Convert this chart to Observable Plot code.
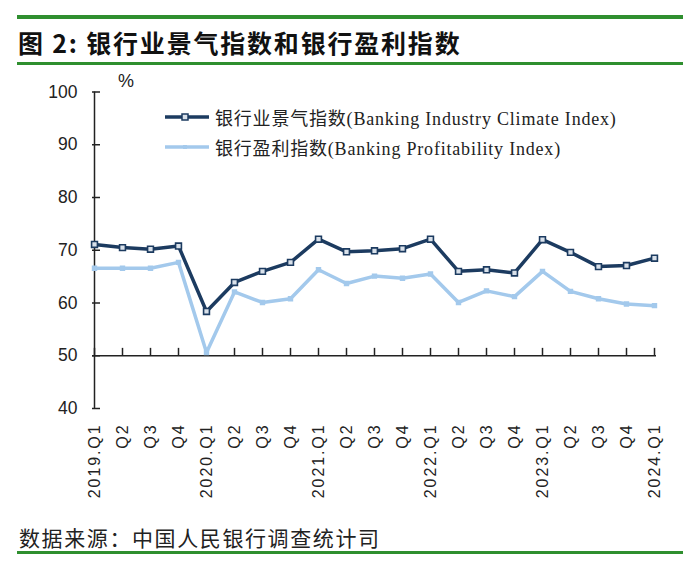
<!DOCTYPE html>
<html>
<head>
<meta charset="utf-8">
<script src="https://cdn.jsdelivr.net/npm/d3@7"></script>
<script src="https://cdn.jsdelivr.net/npm/@observablehq/plot@0.6"></script>
<style>
  html, body { margin: 0; padding: 0; background: #fff; }
  #wrap { position: relative; width: 700px; height: 568px; overflow: hidden; }
  #wrap svg.plot { position: absolute; left: 0; top: 0; }
  .rule { position: absolute; background: #2f8f2f; }
  #title { position: absolute; left: 18px; top: 26px; font-family: "Noto Sans CJK SC", sans-serif; font-weight: 700; font-size: 25px; line-height: 32px; color: #111; letter-spacing: 1.8px; white-space: nowrap; }
  #caption { position: absolute; left: 19px; top: 523px; font-family: "Noto Sans CJK SC", sans-serif; font-weight: 400; font-size: 21px; line-height: 28px; color: #222; letter-spacing: 1.6px; white-space: nowrap; }
  #pct { position: absolute; left: 118px; top: 71px; font-family: "Liberation Sans", sans-serif; font-size: 18px; color: #222; }
  .leg { position: absolute; left: 163px; height: 24px; display: flex; align-items: center; font-family: "Liberation Serif", "Noto Sans CJK SC", serif; font-size: 18px; color: #222; white-space: nowrap; letter-spacing: 0.8px; }
  .leg svg { margin-right: 4px; }
  svg [aria-label="x-axis tick label"] text { letter-spacing: 1.9px; }
</style>
</head>
<body>
<div id="wrap"></div>
<script>
// ---- data ----
const quarters = ["2019Q1","2019Q2","2019Q3","2019Q4","2020Q1","2020Q2","2020Q3","2020Q4",
  "2021Q1","2021Q2","2021Q3","2021Q4","2022Q1","2022Q2","2022Q3","2022Q4",
  "2023Q1","2023Q2","2023Q3","2023Q4","2024Q1"];
const xTickLabels = ["2019.Q1","Q2","Q3","Q4","2020.Q1","Q2","Q3","Q4",
  "2021.Q1","Q2","Q3","Q4","2022.Q1","Q2","Q3","Q4",
  "2023.Q1","Q2","Q3","Q4","2024.Q1"];
const climateIndex = [71.1,70.5,70.2,70.8,58.4,63.9,66.0,67.7,72.1,69.7,69.9,70.3,72.1,66.0,66.3,65.7,72.0,69.6,66.9,67.1,68.5];
const profitIndex  = [66.6,66.6,66.6,67.7,50.6,62.1,60.1,60.8,66.3,63.7,65.1,64.7,65.5,60.1,62.3,61.2,66.0,62.2,60.8,59.8,59.5];
const yTicks = [40,50,60,70,80,90,100];
const seriesNames = ["银行业景气指数(Banking Industry Climate Index)", "银行盈利指数(Banking Profitability Index)"];
const colors = ["#1c3b60", "#a3c9ec"];

const climateData = quarters.map((q, i) => ({q, v: climateIndex[i]}));
const profitData = quarters.map((q, i) => ({q, v: profitIndex[i]}));
const labelOf = new Map(quarters.map((q, i) => [q, xTickLabels[i]]));

const W = 700, H = 568;
const mL = 92, mR = 44, mT = 91.5, mB = H - 408;
const plotW = W - mL - mR;

const chart = Plot.plot({
  width: W, height: H,
  marginLeft: mL, marginRight: mR, marginTop: mT, marginBottom: mB,
  style: {background: "transparent", overflow: "visible"},
  x: {type: "point", domain: quarters, padding: 0},
  y: {domain: [40, 100]},
  marks: [
    Plot.axisY({ticks: yTicks, tickSize: 0, tickPadding: 15, fontSize: 17.5, fontFamily: "Liberation Sans, sans-serif", fill: "#222", label: null}),
    Plot.axisX({tickSize: 0, tickRotate: -90, tickPadding: 15, fontSize: 16, fontFamily: "Liberation Sans, sans-serif", fill: "#222", label: null, tickFormat: d => labelOf.get(d)}),
    Plot.tickY(yTicks, {y: d => d, stroke: "#222", strokeWidth: 1.5, insetRight: plotW - 8}),
    Plot.ruleX([quarters[0]], {y1: 40, y2: 100, stroke: "#222", strokeWidth: 1.5}),
    Plot.ruleY([50], {stroke: "#222", strokeWidth: 1.5}),
    Plot.ruleX(quarters, {y1: 50, y2: 51.4, stroke: "#222", strokeWidth: 1.5}),
    Plot.line(profitData, {x: "q", y: "v", stroke: colors[1], strokeWidth: 3.5}),
    Plot.dot(profitData, {x: "q", y: "v", symbol: "square", r: 2.2, fill: colors[1], stroke: colors[1]}),
    Plot.line(climateData, {x: "q", y: "v", stroke: colors[0], strokeWidth: 3.5}),
    Plot.dot(climateData, {x: "q", y: "v", symbol: "square", r: 3.3, fill: "#d9e1ea", stroke: colors[0], strokeWidth: 1.6})
  ]
});
chart.classList.add("plot");

const wrap = document.getElementById("wrap");
wrap.appendChild(chart);

function addRule(top, left, width, h) {
  const d = document.createElement("div");
  d.className = "rule";
  d.style.top = top + "px"; d.style.left = left + "px";
  d.style.width = width + "px"; d.style.height = h + "px";
  wrap.appendChild(d);
}
addRule(15, 17, 666, 3.5);
addRule(62, 17, 666, 2.5);
addRule(551, 17, 666, 2.5);

const title = document.createElement("div");
title.id = "title";
title.textContent = "图 2:  银行业景气指数和银行盈利指数";
wrap.appendChild(title);

const caption = document.createElement("div");
caption.id = "caption";
caption.textContent = "数据来源：中国人民银行调查统计司";
wrap.appendChild(caption);

const pct = document.createElement("div");
pct.id = "pct";
pct.textContent = "%";
wrap.appendChild(pct);

const legTops = [105, 135];
seriesNames.forEach((name, i) => {
  const row = document.createElement("div");
  row.className = "leg";
  row.style.top = legTops[i] + "px";
  const marker = i === 0
    ? `<rect x="19" y="-3" width="6" height="6" fill="#d9e1ea" stroke="${colors[0]}" stroke-width="1.5"/>`
    : `<rect x="20" y="-2" width="4" height="4" fill="${colors[1]}"/>`;
  row.innerHTML = `<svg width="48" height="24" viewBox="0 -12 48 24"><line x1="2" x2="46" y1="0" y2="0" stroke="${colors[i]}" stroke-width="3.5"/>${marker}</svg><span>${name}</span>`;
  wrap.appendChild(row);
});
</script>
</body>
</html>
